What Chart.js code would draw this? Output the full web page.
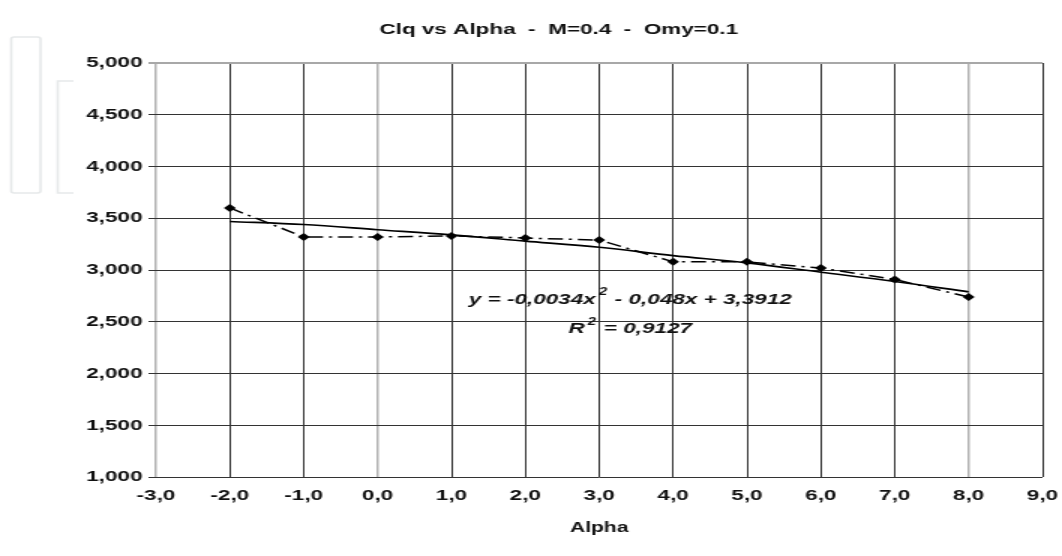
<!DOCTYPE html>
<html>
<head>
<meta charset="utf-8">
<script src="https://cdn.jsdelivr.net/npm/chart.js@4/dist/chart.umd.min.js"></script>
<style>
  html, body { margin: 0; padding: 0; background: #fff; overflow: hidden; }
  /* el original es un grafico de Excel estirado a lo ancho */
  #wrap { width: 708px; height: 556px; transform: scaleX(1.5); transform-origin: 0 0; }
</style>
</head>
<body>
<div id="wrap"><canvas id="clqChart"></canvas></div>
<script>
// Clq vs Alpha
const alpha = [-2, -1, 0, 1, 2, 3, 4, 5, 6, 7, 8];
const clq = [3.60, 3.32, 3.32, 3.33, 3.31, 3.29, 3.08, 3.08, 3.02, 2.91, 2.74];
// linea de tendencia polinomica
const clqTrend = [3.47, 3.44, 3.39, 3.34, 3.28, 3.22, 3.14, 3.07, 2.98, 2.89, 2.79];
const eqLines = ['y = -0,0034x|2| - 0,048x + 3,3912', 'R|2| = 0,9127'];

const fontFam = '"Liberation Sans", Arial, sans-serif';
const comma = (v, d) => v.toFixed(d).replace('.', ',');

// fondo y los dos recuadros grises de la izquierda
const backdrop = {
    id: 'backdrop',
    beforeDraw(chart) {
        const c = chart.ctx;
        c.save();
        c.fillStyle = '#fff';
        c.fillRect(0, 0, chart.width, chart.height);
        c.strokeStyle = '#e6e9ea';
        c.lineWidth = 1.6;
        c.beginPath();
        c.roundRect(7.5, 37, 19.5, 156, 2);
        c.stroke();
        c.beginPath();
        c.moveTo(49, 81);
        c.lineTo(38.5, 81);
        c.lineTo(38.5, 193);
        c.lineTo(49, 193);
        c.stroke();
        c.restore();
    }
};

// texto de la ecuacion
const equation = {
    id: 'equation',
    afterDatasetsDraw(chart) {
        const c = chart.ctx;
        const xs = chart.scales.x, ys = chart.scales.y;
        const cx = xs.getPixelForValue(3.42);
        const rows = [ys.getPixelForValue(2.716), ys.getPixelForValue(2.43)];
        const big = 'italic bold 15px ' + fontFam;
        const small = 'italic bold 10px ' + fontFam;
        c.save();
        c.fillStyle = '#111';
        c.textBaseline = 'middle';
        c.textAlign = 'left';
        eqLines.forEach((line, i) => {
            const parts = line.split('|');
            let total = 0;
            parts.forEach((p, k) => {
                c.font = k % 2 ? small : big;
                total += c.measureText(p).width + (k % 2 ? 3 : 0);
            });
            let x = cx - total / 2;
            parts.forEach((p, k) => {
                c.font = k % 2 ? small : big;
                c.fillText(p, x + (k % 2 ? 2 : 0), rows[i] - (k % 2 ? 7 : 0));
                x += c.measureText(p).width + (k % 2 ? 3 : 0);
            });
        });
        c.restore();
    }
};

const ctx = document.getElementById('clqChart').getContext('2d');
new Chart(ctx, {
    type: 'line',
    data: {
        datasets: [
            {
                label: 'Clq',
                data: alpha.map((a, i) => ({ x: a, y: clq[i] })),
                borderColor: '#000',
                backgroundColor: '#000',
                borderWidth: 1.5,
                borderDash: [10, 4, 2, 4],
                pointStyle: 'rectRot',
                pointRadius: 4,
                pointHoverRadius: 4,
                pointBorderWidth: 0,
                tension: 0
            },
            {
                label: 'Tendencia',
                data: alpha.map((a, i) => ({ x: a, y: clqTrend[i] })),
                borderColor: '#000',
                borderWidth: 1.6,
                pointRadius: 0,
                cubicInterpolationMode: 'monotone'
            }
        ]
    },
    options: {
        responsive: true,
        maintainAspectRatio: false,
        animation: false,
        layout: { padding: { left: 50, right: 13, top: 0, bottom: 19 } },
        plugins: {
            legend: { display: false },
            tooltip: { enabled: false },
            title: {
                display: true,
                text: 'Clq vs Alpha  -  M=0.4  -  Omy=0.1',
                color: '#111',
                font: { family: fontFam, size: 15, weight: 'bold' },
                padding: { top: 21, bottom: 24 }
            }
        },
        scales: {
            x: {
                type: 'linear',
                min: -3,
                max: 9,
                ticks: {
                    stepSize: 1,
                    color: '#111',
                    padding: 0,
                    font: { family: fontFam, size: 15, weight: 'bold' },
                    callback: v => comma(v, 1)
                },
                grid: {
                    color: c => [0, 3, 11].includes(c.index) ? '#b4b4b4' : '#333',
                    lineWidth: c => [0, 3, 11].includes(c.index) ? 1.5 : 1,
                    tickColor: 'rgba(0,0,0,0)',
                    tickLength: 10
                },
                border: { display: false },
                title: {
                    display: true,
                    text: 'Alpha',
                    color: '#111',
                    font: { family: fontFam, size: 14, weight: 'bold' },
                    padding: { top: 15, bottom: 0 }
                }
            },
            y: {
                min: 1,
                max: 5,
                afterFit: s => { s.width = 54; },
                ticks: {
                    stepSize: 0.5,
                    color: '#111',
                    padding: 4,
                    font: { family: fontFam, size: 15, weight: 'bold' },
                    callback: v => comma(v, 3)
                },
                grid: {
                    color: c => c.index === 8 ? '#a8a8a8' : '#333',
                    lineWidth: c => c.index === 8 ? 2 : 1,
                    tickLength: 5
                },
                border: { display: false }
            }
        }
    },
    plugins: [backdrop, equation]
});
</script>
</body>
</html>
